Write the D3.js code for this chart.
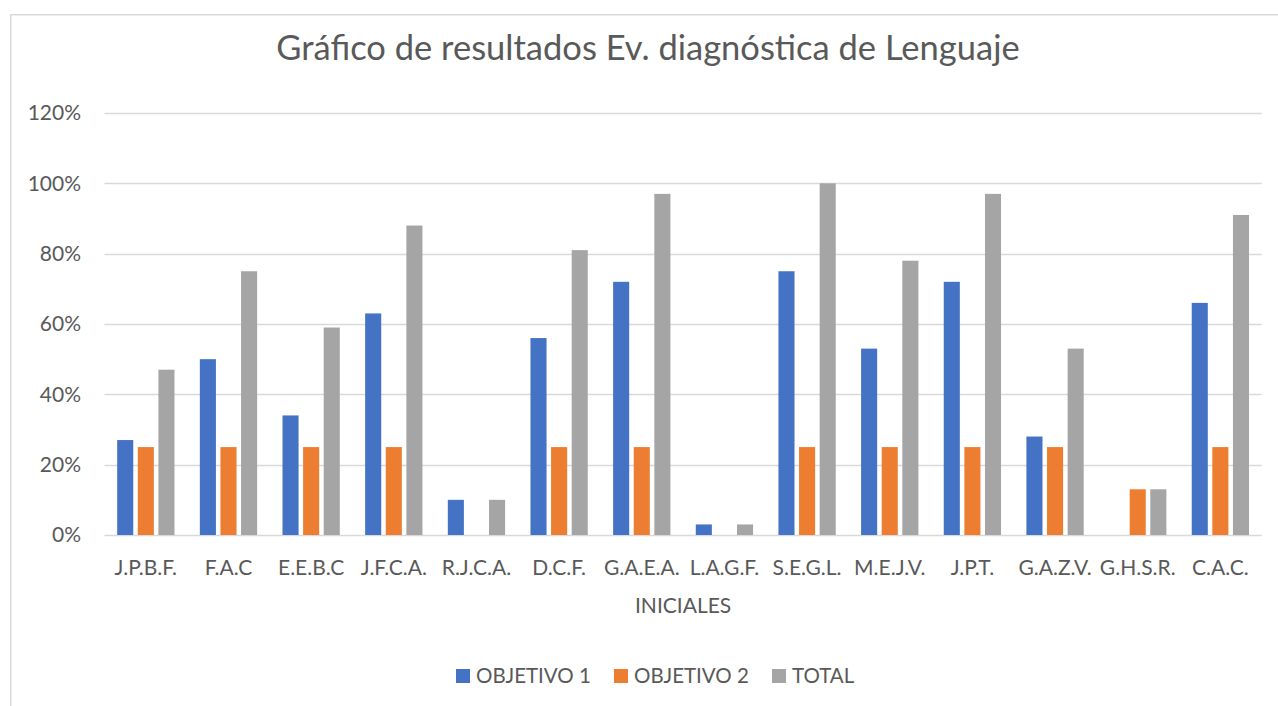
<!DOCTYPE html>
<html>
<head>
<meta charset="utf-8">
<script src="https://cdn.jsdelivr.net/npm/d3@7"></script>
<style>
  html, body { margin: 0; padding: 0; background: #fff; }
  svg { display: block; }
</style>
</head>
<body>
<svg id="chart" width="1278" height="706"></svg>
<script>
const categories = ["J.P.B.F.", "F.A.C", "E.E.B.C", "J.F.C.A.", "R.J.C.A.", "D.C.F.", "G.A.E.A.", "L.A.G.F.", "S.E.G.L.", "M.E.J.V.", "J.P.T.", "G.A.Z.V.", "G.H.S.R.", "C.A.C."];
const objetivo1 = [0.27, 0.50, 0.34, 0.63, 0.10, 0.56, 0.72, 0.03, 0.75, 0.53, 0.72, 0.28, 0.00, 0.66];
const objetivo2 = [0.25, 0.25, 0.25, 0.25, 0.00, 0.25, 0.25, 0.00, 0.25, 0.25, 0.25, 0.25, 0.13, 0.25];
const total     = [0.47, 0.75, 0.59, 0.88, 0.10, 0.81, 0.97, 0.03, 1.00, 0.78, 0.97, 0.53, 0.13, 0.91];
const seriesNames = ["OBJETIVO 1", "OBJETIVO 2", "TOTAL"];
const yTicks = [0, 0.2, 0.4, 0.6, 0.8, 1.0, 1.2];
const titleText = "Gráfico de resultados Ev. diagnóstica de Lenguaje";
const xAxisTitle = "INICIALES";

const colors = ["#4472C4", "#ED7D31", "#A5A5A5"];
const seriesValues = [objetivo1, objetivo2, total];
const FONT = "Lato, 'Open Sans', sans-serif";
const TEXT = "#595959";

const svg = d3.select("#chart");

// chart border
svg.append("rect")
  .attr("x", 10.75).attr("y", 14.75)
  .attr("width", 1300).attr("height", 800)
  .attr("fill", "none").attr("stroke", "#d9d9d9").attr("stroke-width", 1.5);

const plot = { left: 104.5, right: 1261.7, top: 113, bottom: 535 };

const x = d3.scaleBand().domain(categories).range([plot.left, plot.right]).paddingInner(0).paddingOuter(0);
const y = d3.scaleLinear().domain([0, 1.2]).range([plot.bottom, plot.top]);
const inner = d3.scaleBand().domain(seriesNames).range([0, 57.3]).paddingInner(0.22).paddingOuter(0);

// gridlines
svg.append("g")
  .selectAll("line").data(yTicks).join("line")
  .attr("x1", plot.left).attr("x2", plot.right)
  .attr("y1", d => Math.round(y(d)) + 0.5).attr("y2", d => Math.round(y(d)) + 0.5)
  .attr("stroke", "#d9d9d9").attr("stroke-width", 1.3);

// y axis labels
const yAxis = d3.axisLeft(y).tickValues(yTicks).tickFormat(d3.format(".0%")).tickSize(0).tickPadding(0);
const yg = svg.append("g").attr("transform", `translate(81,0)`).call(yAxis);
yg.select(".domain").remove();
yg.selectAll("text").attr("fill", TEXT).style("font-family", FONT).style("font-size", "21px");

// bars
const groupOffset = (x.bandwidth() - 57.3) / 2;
const groups = svg.append("g").selectAll("g").data(seriesNames).join("g")
  .attr("fill", (d, i) => colors[i]);
groups.selectAll("rect")
  .data((s, si) => categories.map((c, ci) => ({ c, s, v: seriesValues[si][ci] })))
  .join("rect")
  .attr("x", d => x(d.c) + groupOffset + inner(d.s))
  .attr("width", inner.bandwidth())
  .attr("y", d => y(d.v))
  .attr("height", d => y(0) - y(d.v));

// x axis labels
const xAxis = d3.axisBottom(x).tickSize(0).tickPadding(0);
const xg = svg.append("g").attr("transform", `translate(0,${plot.bottom})`).call(xAxis);
xg.select(".domain").remove();
xg.selectAll("text")
  .attr("y", 0).attr("dy", null)
  .attr("transform", "translate(0,40)")
  .attr("fill", TEXT).style("font-family", FONT).style("font-size", "21px");

// axis title
svg.append("text")
  .attr("x", (plot.left + plot.right) / 2).attr("y", 613)
  .attr("text-anchor", "middle").attr("fill", TEXT)
  .style("font-family", FONT).style("font-size", "21px")
  .text(xAxisTitle);

// title
svg.append("text")
  .attr("x", 648).attr("y", 60)
  .attr("text-anchor", "middle").attr("fill", TEXT)
  .style("font-family", FONT).style("font-size", "34.5px")
  .text(titleText);

// legend
const legendX = [456, 614, 772];
const lg = svg.append("g").selectAll("g").data(seriesNames).join("g")
  .attr("transform", (d, i) => `translate(${legendX[i]},669)`);
lg.append("rect").attr("width", 14).attr("height", 14).attr("fill", (d, i) => colors[i]);
lg.append("text").attr("x", 20).attr("y", 7).attr("dy", "0.35em")
  .attr("fill", TEXT).style("font-family", FONT).style("font-size", "20.5px")
  .text(d => d);
</script>
</body>
</html>
